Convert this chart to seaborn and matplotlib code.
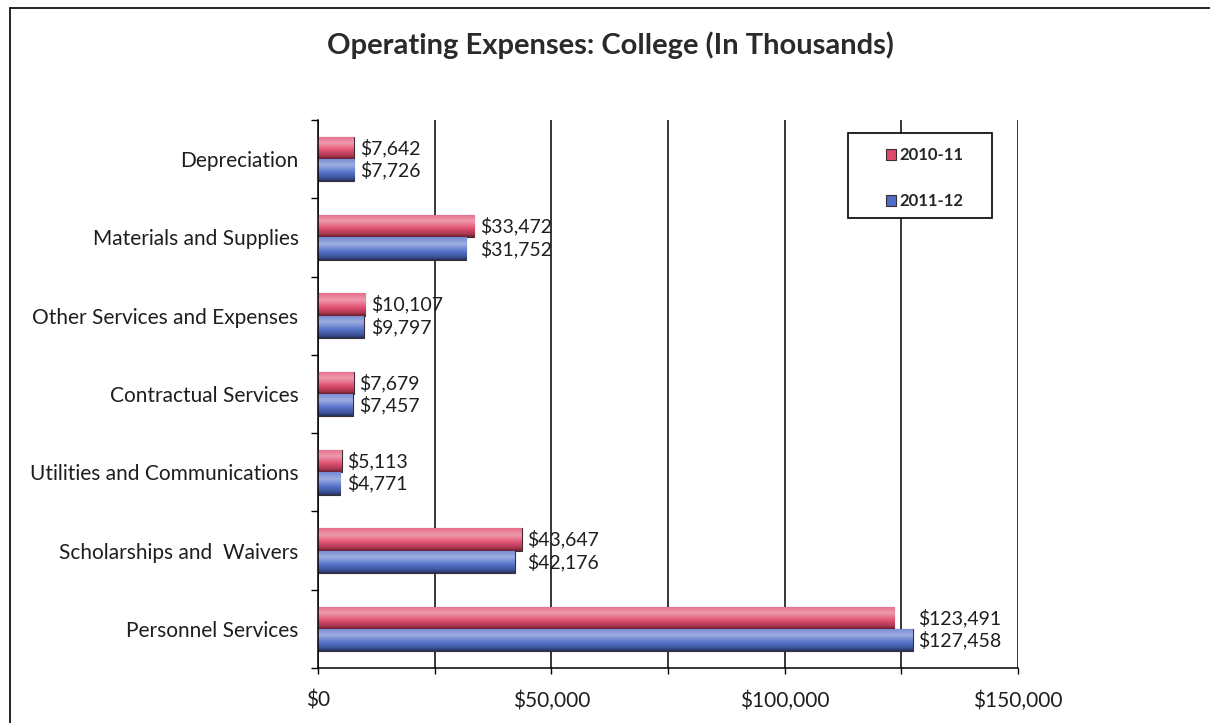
import numpy as np
import pandas as pd
import matplotlib
matplotlib.use("Agg")
import matplotlib.pyplot as plt
import seaborn as sns
from matplotlib.ticker import FixedLocator, MultipleLocator, FuncFormatter
from matplotlib.lines import Line2D
from matplotlib.patches import Rectangle
from matplotlib.colors import to_rgb

# Operating expenses by category, in thousands of dollars
categories = [
    "Depreciation",
    "Materials and Supplies",
    "Other Services and Expenses",
    "Contractual Services",
    "Utilities and Communications",
    "Scholarships and  Waivers",
    "Personnel Services",
]
years = ["2010-11", "2011-12"]
expenses_2010_11 = [7642, 33472, 10107, 7679, 5113, 43647, 123491]
expenses_2011_12 = [7726, 31752, 9797, 7457, 4771, 42176, 127458]
x_tick_values = [0, 50000, 100000, 150000]

df = pd.DataFrame({
    "Category": categories * 2,
    "Year": [years[0]] * len(categories) + [years[1]] * len(categories),
    "Amount": expenses_2010_11 + expenses_2011_12,
})

sns.set_style("white")
plt.rcParams["font.family"] = ["Lato", "DejaVu Sans"]

W, H = 1210, 723
fig = plt.figure(figsize=(W / 100, H / 100), dpi=100)
ax = fig.add_axes([318 / W, 55 / H, 700 / W, 548 / H])

palette = {"2010-11": "#e0486a", "2011-12": "#4f6cc8"}
sns.barplot(data=df, y="Category", x="Amount", hue="Year", order=categories,
            hue_order=years, palette=palette, orient="h", width=0.57,
            saturation=1, edgecolor="#3b2b33", linewidth=0.8, ax=ax)

handles, labels = ax.get_legend_handles_labels()
if ax.get_legend() is not None:
    ax.get_legend().remove()


def mix(c, other, t):
    c = np.array(to_rgb(c))
    o = np.array(other)
    return (1 - t) * c + t * o


def bar_gradient(base, n=64):
    white, black = (1, 1, 1), (0, 0, 0)
    stops = [
        (0.00, mix(base, white, 0.20)),
        (0.30, mix(base, white, 0.45)),
        (0.62, mix(base, white, 0.05)),
        (0.88, mix(base, black, 0.25)),
        (1.00, mix(base, black, 0.55)),
    ]
    pos = np.array([s[0] for s in stops])
    cols = np.array([s[1] for s in stops])
    t = np.linspace(0, 1, n)
    rgb = np.stack([np.interp(t, pos, cols[:, k]) for k in range(3)], axis=1)
    return rgb.reshape(n, 1, 3)


# Shaded, rounded-looking bars: gradient clipped to each bar drawn by seaborn
for year, container in zip(years, ax.containers):
    grad = bar_gradient(palette[year])
    for patch in container:
        x0, y0 = patch.get_x(), patch.get_y()
        w, h = patch.get_width(), patch.get_height()
        im = ax.imshow(grad, extent=(x0, x0 + w, y0 + h, y0), origin="upper",
                       aspect="auto", interpolation="bicubic", zorder=patch.get_zorder() + 0.1)
        im.set_clip_path(patch)

ax.set_xlim(0, 150000)
ax.set_ylim(len(categories) - 0.5, -0.5)

# Value labels, one pair per category aligned after the longer bar
for i in range(len(categories)):
    end = max(expenses_2010_11[i], expenses_2011_12[i])
    for container, values in zip(ax.containers, [expenses_2010_11, expenses_2011_12]):
        patch = container[i]
        yc = patch.get_y() + patch.get_height() / 2
        ax.annotate(f"${values[i]:,}", xy=(end, yc), xytext=(4, 0),
                    textcoords="offset points", ha="left", va="center",
                    fontsize=14, color="#1e1e1e", zorder=5)

# Axes styling
ax.set_xlabel("")
ax.set_ylabel("")
for side in ["top", "right"]:
    ax.spines[side].set_visible(False)
for side in ["left", "bottom"]:
    ax.spines[side].set_color("black")
    ax.spines[side].set_linewidth(1.1)

ax.xaxis.set_major_locator(FixedLocator(x_tick_values))
ax.xaxis.set_minor_locator(MultipleLocator(25000))
ax.xaxis.set_major_formatter(FuncFormatter(lambda v, p: f"${v:,.0f}"))
ax.grid(True, axis="x", which="both", color="black", linewidth=1.1)
ax.grid(False, axis="y")
ax.set_axisbelow(True)
ax.tick_params(axis="x", which="both", direction="out", length=4, width=1,
               color="black", bottom=True)
ax.tick_params(axis="x", which="major", labelsize=15, pad=12, labelcolor="#1e1e1e")

ax.yaxis.set_minor_locator(FixedLocator(np.arange(-0.5, len(categories), 1.0)))
ax.tick_params(axis="y", which="major", length=0, pad=14, labelsize=15,
               labelcolor="#1e1e1e")
ax.tick_params(axis="y", which="minor", direction="out", length=5, width=1,
               color="black", left=True)

fig.text(610 / W, 1 - 45 / H, "Operating Expenses: College (In Thousands)",
         ha="center", va="center", fontsize=21, fontweight="bold", color="#2a2a2a")

# Legend inside a plain black box
box_l, box_t, box_r, box_b = 848, 133, 992, 218
fig.patches.append(Rectangle((box_l / W, 1 - box_b / H), (box_r - box_l) / W,
                             (box_b - box_t) / H, transform=fig.transFigure,
                             facecolor="white", edgecolor="black", linewidth=1.2,
                             zorder=3))
leg = fig.legend(handles, labels, loc="center",
                 bbox_to_anchor=((box_l + box_r) / 2 / W + 0.004, 1 - (box_t + box_b + 6) / 2 / H),
                 frameon=False, handlelength=0.6, handleheight=0.6, handletextpad=0.2,
                 labelspacing=1.8, prop={"weight": "bold", "size": 12})
leg.set_zorder(4)

# Page border
fig.add_artist(Line2D([10 / W, 1], [1 - 8 / H, 1 - 8 / H], transform=fig.transFigure,
                      color="black", linewidth=1.2))
fig.add_artist(Line2D([10 / W, 10 / W], [0, 1 - 8 / H], transform=fig.transFigure,
                      color="black", linewidth=1.2))

fig.savefig("out.png", dpi=100)
